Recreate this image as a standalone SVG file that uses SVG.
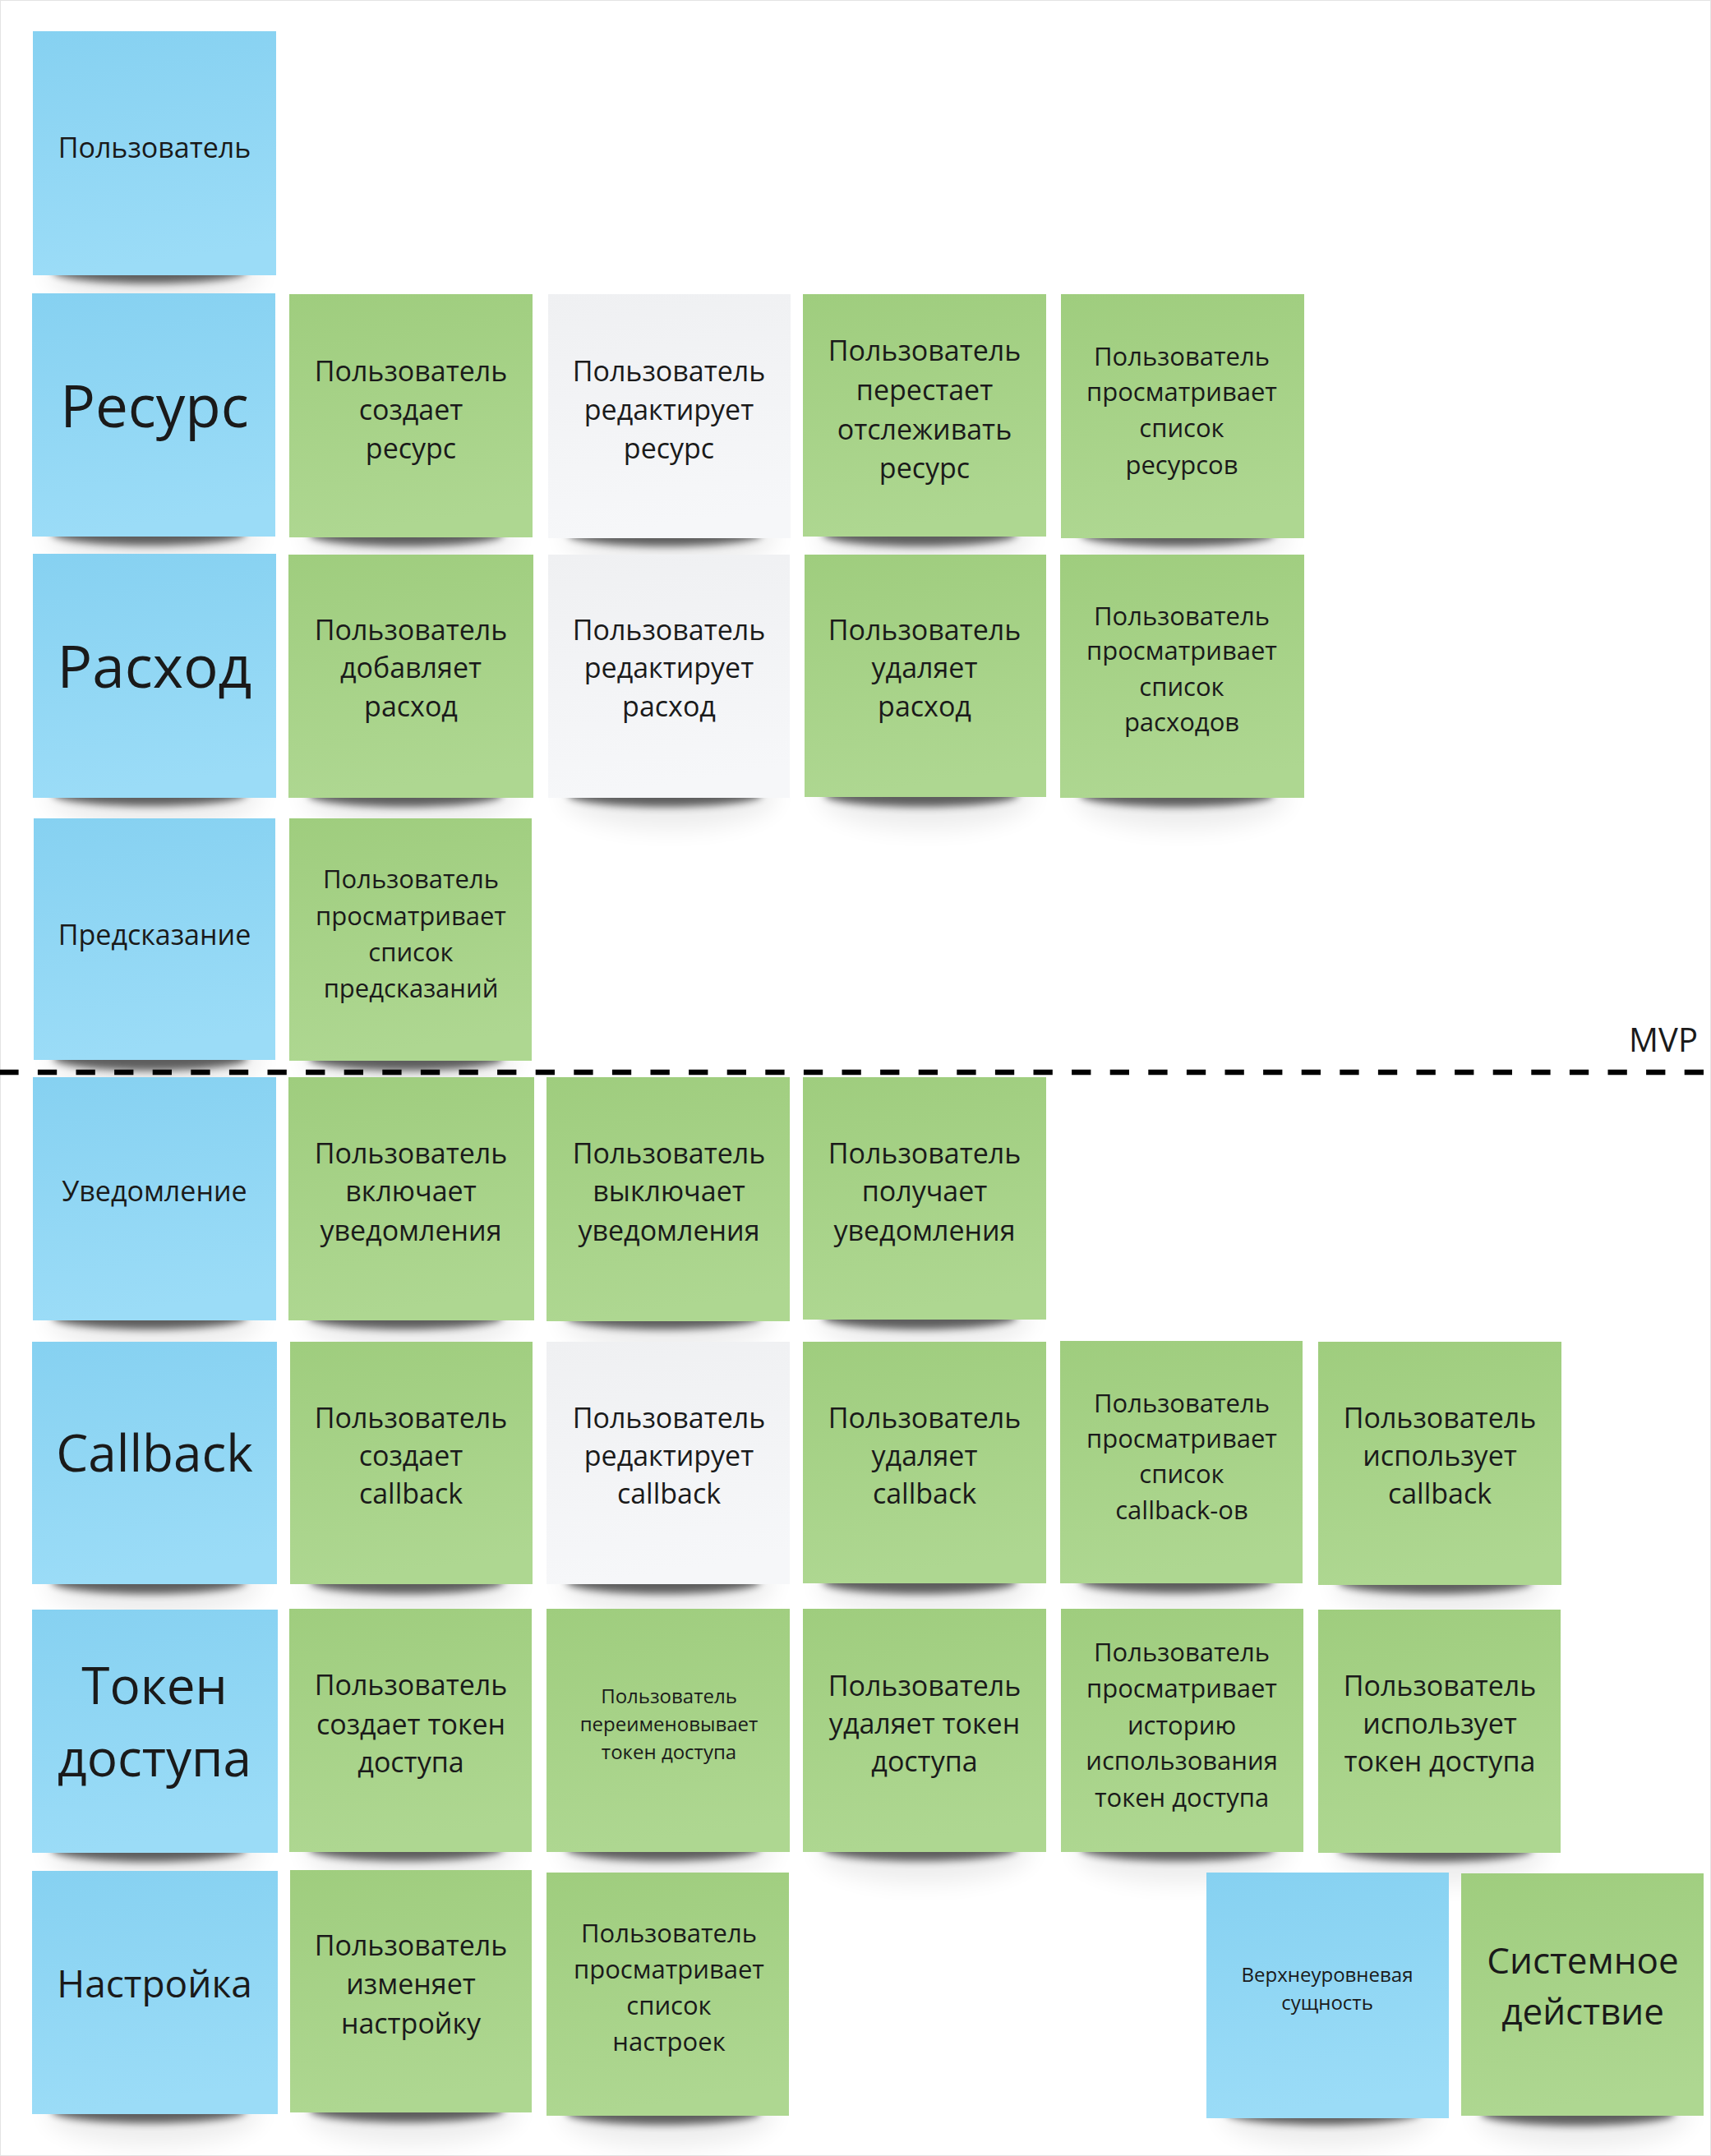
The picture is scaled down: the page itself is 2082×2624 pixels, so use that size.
<svg xmlns="http://www.w3.org/2000/svg" width="2082" height="2624" viewBox="0 0 2082 2624">
<defs>
<linearGradient id="gBlue" x1="0" y1="0" x2="0.15" y2="1"><stop offset="0" stop-color="#86d1f1"/><stop offset="1" stop-color="#9bdcf7"/></linearGradient>
<linearGradient id="gGreen" x1="0" y1="0" x2="0.15" y2="1"><stop offset="0" stop-color="#9fcd7e"/><stop offset="1" stop-color="#aed791"/></linearGradient>
<linearGradient id="gWhite" x1="0" y1="0" x2="0.15" y2="1"><stop offset="0" stop-color="#eff0f2"/><stop offset="1" stop-color="#f6f7f9"/></linearGradient>
<filter id="fShadow" x="-20%" y="-200%" width="140%" height="500%"><feGaussianBlur stdDeviation="5"/></filter>
<filter id="fHalo" x="-30%" y="-300%" width="160%" height="700%"><feGaussianBlur stdDeviation="14"/></filter>
<g id="shadow">
<ellipse cx="148" cy="294" rx="130" ry="40" fill="#000" opacity="0.07" filter="url(#fHalo)"/>
<ellipse cx="142" cy="292" rx="118" ry="15" fill="#000" opacity="0.6" filter="url(#fShadow)"/>
</g>
</defs>
<style>
.blue{fill:url(#gBlue)}
.green{fill:url(#gGreen)}
.white{fill:url(#gWhite)}
text{font-family:"Open Sans","Noto Sans",sans-serif;fill:#1a1a1a;text-anchor:middle}
.t24{font-size:24px}
.t31{font-size:31px}
.t34{font-size:34px}
.t44{font-size:44px}
.t46{font-size:46px}
.t62{font-size:62px}
.t71{font-size:71px}
.mvp{font-size:40px;text-anchor:end}
</style>
<rect x="0" y="0" width="2082" height="2624" fill="#ffffff"/>
<rect x="0.5" y="0.5" width="2081" height="2623" fill="none" stroke="#e4e4e4" stroke-width="1"/>

<g id="n-user"><use href="#shadow" x="40" y="38"/><rect class="blue" x="40" y="38" width="296" height="297"/><text class="t34" x="188" y="192">Пользователь</text></g>

<g id="n-resurs"><use href="#shadow" x="39" y="357"/><rect class="blue" x="39" y="357" width="296" height="296"/><text class="t71" x="188" y="520">Ресурс</text></g>
<g id="r1c1"><use href="#shadow" x="352" y="358"/><rect class="green" x="352" y="358" width="296" height="296"/><text class="t34"><tspan x="500" y="464">Пользователь</tspan><tspan x="500" y="511">создает</tspan><tspan x="500" y="558">ресурс</tspan></text></g>
<g id="r1c2"><use href="#shadow" x="667" y="358"/><rect class="white" x="667" y="358" width="295" height="297"/><text class="t34"><tspan x="814" y="464">Пользователь</tspan><tspan x="814" y="511">редактирует</tspan><tspan x="814" y="558">ресурс</tspan></text></g>
<g id="r1c3"><use href="#shadow" x="977" y="358"/><rect class="green" x="977" y="358" width="296" height="295"/><text class="t34"><tspan x="1125" y="439">Пользователь</tspan><tspan x="1125" y="487">перестает</tspan><tspan x="1125" y="535">отслеживать</tspan><tspan x="1125" y="582">ресурс</tspan></text></g>
<g id="r1c4"><use href="#shadow" x="1291" y="358"/><rect class="green" x="1291" y="358" width="296" height="297"/><text class="t31"><tspan x="1438" y="445">Пользователь</tspan><tspan x="1438" y="488">просматривает</tspan><tspan x="1438" y="532">список</tspan><tspan x="1438" y="577">ресурсов</tspan></text></g>

<g id="n-rashod"><use href="#shadow" x="40" y="674"/><rect class="blue" x="40" y="674" width="296" height="297"/><text class="t71" x="188" y="837">Расход</text></g>
<g id="r2c1"><use href="#shadow" x="351" y="675"/><rect class="green" x="351" y="675" width="298" height="296"/><text class="t34"><tspan x="500" y="779">Пользователь</tspan><tspan x="500" y="825">добавляет</tspan><tspan x="500" y="872">расход</tspan></text></g>
<g id="r2c2"><use href="#shadow" x="667" y="675"/><rect class="white" x="667" y="675" width="294" height="296"/><text class="t34"><tspan x="814" y="779">Пользователь</tspan><tspan x="814" y="825">редактирует</tspan><tspan x="814" y="872">расход</tspan></text></g>
<g id="r2c3"><use href="#shadow" x="979" y="675"/><rect class="green" x="979" y="675" width="294" height="295"/><text class="t34"><tspan x="1125" y="779">Пользователь</tspan><tspan x="1125" y="825">удаляет</tspan><tspan x="1125" y="872">расход</tspan></text></g>
<g id="r2c4"><use href="#shadow" x="1290" y="675"/><rect class="green" x="1290" y="675" width="297" height="296"/><text class="t31"><tspan x="1438" y="761">Пользователь</tspan><tspan x="1438" y="803">просматривает</tspan><tspan x="1438" y="847">список</tspan><tspan x="1438" y="890">расходов</tspan></text></g>

<g id="n-pred"><use href="#shadow" x="41" y="996"/><rect class="blue" x="41" y="996" width="294" height="294"/><text class="t34" x="188" y="1150">Предсказание</text></g>
<g id="r3c1"><use href="#shadow" x="352" y="996"/><rect class="green" x="352" y="996" width="295" height="295"/><text class="t31"><tspan x="500" y="1081">Пользователь</tspan><tspan x="500" y="1126">просматривает</tspan><tspan x="500" y="1170">список</tspan><tspan x="500" y="1214">предсказаний</tspan></text></g>

<g id="mvp-divider">
<line x1="-0.7" y1="1305" x2="2082" y2="1305" stroke="#000" stroke-width="6.5" stroke-dasharray="23.3 23.3"/>
<text class="mvp" x="2066" y="1280">MVP</text>
</g>

<g id="n-uved"><use href="#shadow" x="40" y="1311"/><rect class="blue" x="40" y="1311" width="296" height="296"/><text class="t34" x="188" y="1462">Уведомление</text></g>
<g id="r4c1"><use href="#shadow" x="351" y="1311"/><rect class="green" x="351" y="1311" width="299" height="296"/><text class="t34"><tspan x="500" y="1416">Пользователь</tspan><tspan x="500" y="1462">включает</tspan><tspan x="500" y="1510">уведомления</tspan></text></g>
<g id="r4c2"><use href="#shadow" x="665" y="1311"/><rect class="green" x="665" y="1311" width="296" height="297"/><text class="t34"><tspan x="814" y="1416">Пользователь</tspan><tspan x="814" y="1462">выключает</tspan><tspan x="814" y="1510">уведомления</tspan></text></g>
<g id="r4c3"><use href="#shadow" x="977" y="1311"/><rect class="green" x="977" y="1311" width="296" height="295"/><text class="t34"><tspan x="1125" y="1416">Пользователь</tspan><tspan x="1125" y="1462">получает</tspan><tspan x="1125" y="1510">уведомления</tspan></text></g>

<g id="n-callback"><use href="#shadow" x="39" y="1633"/><rect class="blue" x="39" y="1633" width="298" height="295"/><text class="t62" x="188" y="1791">Callback</text></g>
<g id="r5c1"><use href="#shadow" x="353" y="1633"/><rect class="green" x="353" y="1633" width="295" height="295"/><text class="t34"><tspan x="500" y="1738">Пользователь</tspan><tspan x="500" y="1784">создает</tspan><tspan x="500" y="1830">callback</tspan></text></g>
<g id="r5c2"><use href="#shadow" x="665" y="1633"/><rect class="white" x="665" y="1633" width="296" height="295"/><text class="t34"><tspan x="814" y="1738">Пользователь</tspan><tspan x="814" y="1784">редактирует</tspan><tspan x="814" y="1830">callback</tspan></text></g>
<g id="r5c3"><use href="#shadow" x="977" y="1633"/><rect class="green" x="977" y="1633" width="296" height="294"/><text class="t34"><tspan x="1125" y="1738">Пользователь</tspan><tspan x="1125" y="1784">удаляет</tspan><tspan x="1125" y="1830">callback</tspan></text></g>
<g id="r5c4"><use href="#shadow" x="1290" y="1632"/><rect class="green" x="1290" y="1632" width="295" height="295"/><text class="t31"><tspan x="1438" y="1719">Пользователь</tspan><tspan x="1438" y="1762">просматривает</tspan><tspan x="1438" y="1805">список</tspan><tspan x="1438" y="1849">callback-ов</tspan></text></g>
<g id="r5c5"><use href="#shadow" x="1604" y="1633"/><rect class="green" x="1604" y="1633" width="296" height="296"/><text class="t34"><tspan x="1752" y="1738">Пользователь</tspan><tspan x="1752" y="1784">использует</tspan><tspan x="1752" y="1830">callback</tspan></text></g>

<g id="n-token"><use href="#shadow" x="39" y="1959"/><rect class="blue" x="39" y="1959" width="299" height="296"/><text class="t62"><tspan x="188" y="2074">Токен</tspan><tspan x="188" y="2162">доступа</tspan></text></g>
<g id="r6c1"><use href="#shadow" x="352" y="1958"/><rect class="green" x="352" y="1958" width="295" height="296"/><text class="t34"><tspan x="500" y="2063">Пользователь</tspan><tspan x="500" y="2111">создает токен</tspan><tspan x="500" y="2157">доступа</tspan></text></g>
<g id="r6c2"><use href="#shadow" x="665" y="1958"/><rect class="green" x="665" y="1958" width="296" height="296"/><text class="t24"><tspan x="814" y="2073">Пользователь</tspan><tspan x="814" y="2107">переименовывает</tspan><tspan x="814" y="2141">токен доступа</tspan></text></g>
<g id="r6c3"><use href="#shadow" x="977" y="1958"/><rect class="green" x="977" y="1958" width="296" height="296"/><text class="t34"><tspan x="1125" y="2064">Пользователь</tspan><tspan x="1125" y="2110">удаляет токен</tspan><tspan x="1125" y="2156">доступа</tspan></text></g>
<g id="r6c4"><use href="#shadow" x="1291" y="1958"/><rect class="green" x="1291" y="1958" width="295" height="296"/><text class="t31"><tspan x="1438" y="2022">Пользователь</tspan><tspan x="1438" y="2066">просматривает</tspan><tspan x="1438" y="2111">историю</tspan><tspan x="1438" y="2154">использования</tspan><tspan x="1438" y="2199">токен доступа</tspan></text></g>
<g id="r6c5"><use href="#shadow" x="1604" y="1959"/><rect class="green" x="1604" y="1959" width="295" height="296"/><text class="t34"><tspan x="1752" y="2064">Пользователь</tspan><tspan x="1752" y="2110">использует</tspan><tspan x="1752" y="2156">токен доступа</tspan></text></g>

<g id="n-nastr"><use href="#shadow" x="39" y="2277"/><rect class="blue" x="39" y="2277" width="299" height="296"/><text class="t46" x="188" y="2431">Настройка</text></g>
<g id="r7c1"><use href="#shadow" x="353" y="2276"/><rect class="green" x="353" y="2276" width="294" height="295"/><text class="t34"><tspan x="500" y="2380">Пользователь</tspan><tspan x="500" y="2427">изменяет</tspan><tspan x="500" y="2475">настройку</tspan></text></g>
<g id="r7c2"><use href="#shadow" x="665" y="2279"/><rect class="green" x="665" y="2279" width="295" height="296"/><text class="t31"><tspan x="814" y="2364">Пользователь</tspan><tspan x="814" y="2408">просматривает</tspan><tspan x="814" y="2452">список</tspan><tspan x="814" y="2496">настроек</tspan></text></g>

<g id="legend-entity"><use href="#shadow" x="1468" y="2279"/><rect class="blue" x="1468" y="2279" width="295" height="299"/><text class="t24"><tspan x="1615" y="2412">Верхнеуровневая</tspan><tspan x="1615" y="2446">сущность</tspan></text></g>
<g id="legend-action"><use href="#shadow" x="1778" y="2280"/><rect class="green" x="1778" y="2280" width="295" height="295"/><text class="t44"><tspan x="1926" y="2402">Системное</tspan><tspan x="1926" y="2464">действие</tspan></text></g>

<g id="connectors"></g>
</svg>
